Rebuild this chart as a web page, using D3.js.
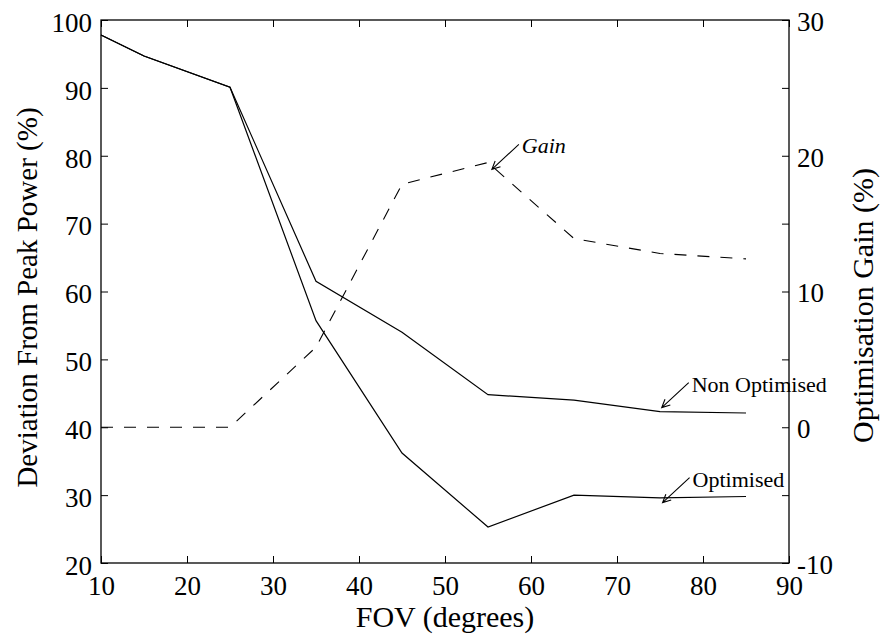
<!DOCTYPE html>
<html>
<head>
<meta charset="utf-8">
<script src="https://cdn.jsdelivr.net/npm/d3@7"></script>
<style>
body { margin: 0; background: #fff; }
</style>
</head>
<body>
<script>
// FOV sweep, deviation from peak power (left axis) and gain (right axis)
var fov = [10, 15, 25, 35, 45, 55, 65, 75, 85];
var nonOptimised = [97.8, 94.7, 90.1, 61.5, 54.0, 44.8, 44.0, 42.3, 42.1];
var optimised = [97.8, 94.7, 90.1, 55.7, 36.2, 25.3, 30.0, 29.6, 29.8];
var gain = [0, 0, 0, 5.9, 17.9, 19.5, 13.9, 12.8, 12.4];

var xTicks = [10, 20, 30, 40, 50, 60, 70, 80, 90];
var leftTicks = [20, 30, 40, 50, 60, 70, 80, 90, 100];
var rightTicks = [-10, -5, 0, 5, 10, 15, 20, 25, 30];
var rightLabels = [-10, 0, 10, 20, 30];

// text arrows: tip in data units of the named axis
var notes = [
	{text: "Gain", axis: "right", x: 55.45, y: 19.0, italic: true},
	{text: "Non Optimised", axis: "left", x: 75.2, y: 42.9, italic: false},
	{text: "Optimised", axis: "left", x: 75.3, y: 28.9, italic: false}
];

var width = 884, height = 642;
var margin = {top: 20, right: 95, bottom: 79, left: 101};
var x0 = margin.left, x1 = width - margin.right;
var y0 = margin.top, y1 = height - margin.bottom;

var serif = "Liberation Serif";

var xScale = d3.scaleLinear().domain([10, 90]).range([x0, x1]);
var yLeft = d3.scaleLinear().domain([20, 100]).range([y1, y0]);
var yRight = d3.scaleLinear().domain([-10, 30]).range([y1, y0]);

var svg = d3.select("body").append("svg")
	.attr("width", width)
	.attr("height", height)
	.attr("font-family", serif);

var tickLen = 7;
var tickSize = "27px";

function styleAxis(g, dy) {
	g.attr("font-family", serif);
	g.select(".domain").remove();
	g.selectAll("line").attr("stroke", "#000").attr("stroke-width", 1);
	g.selectAll("text").attr("font-size", tickSize).attr("font-family", serif).attr("dy", dy);
}

// bottom and top axes, ticks pointing in
svg.append("g")
	.attr("transform", "translate(0," + y1 + ")")
	.call(d3.axisBottom(xScale).tickValues(xTicks).tickSize(-tickLen).tickPadding(12))
	.call(styleAxis, "0.75em");

svg.append("g")
	.attr("transform", "translate(0," + y0 + ")")
	.call(d3.axisTop(xScale).tickValues(xTicks).tickSize(-tickLen).tickFormat(""))
	.call(styleAxis, "0");

// left axis
svg.append("g")
	.attr("transform", "translate(" + x0 + ",0)")
	.call(d3.axisLeft(yLeft).tickValues(leftTicks).tickSize(-tickLen).tickPadding(9))
	.call(styleAxis, "0.42em");

// right axis, ticks every 5, labels every 10
svg.append("g")
	.attr("transform", "translate(" + x1 + ",0)")
	.call(d3.axisRight(yRight).tickValues(rightTicks).tickSize(-tickLen).tickPadding(8)
		.tickFormat(function(d) { return rightLabels.indexOf(d) >= 0 ? d : ""; }))
	.call(styleAxis, "0.38em");

// frame
svg.append("rect")
	.attr("x", x0).attr("y", y0)
	.attr("width", x1 - x0).attr("height", y1 - y0)
	.attr("fill", "none")
	.attr("stroke", "#000")
	.attr("stroke-width", 1.3);

var lineLeft = d3.line()
	.x(function(d, i) { return xScale(fov[i]); })
	.y(function(d) { return yLeft(d); });
var lineRight = d3.line()
	.x(function(d, i) { return xScale(fov[i]); })
	.y(function(d) { return yRight(d); });

svg.append("path")
	.attr("d", lineLeft(nonOptimised))
	.attr("fill", "none").attr("stroke", "#000").attr("stroke-width", 1.2);
svg.append("path")
	.attr("d", lineLeft(optimised))
	.attr("fill", "none").attr("stroke", "#000").attr("stroke-width", 1.2);
svg.append("path")
	.attr("d", lineRight(gain))
	.attr("fill", "none").attr("stroke", "#000").attr("stroke-width", 1.1)
	.attr("stroke-dasharray", "12,11");

// annotations
var noteG = svg.append("g");
notes.forEach(function(n) {
	var tx = xScale(n.x);
	var ty = n.axis == "left" ? yLeft(n.y) : yRight(n.y);
	var sx = tx + 27, sy = ty - 25;
	var ang = Math.atan2(ty - sy, tx - sx);
	var head = 9, spread = 0.45;
	var p = d3.path();
	p.moveTo(sx, sy);
	p.lineTo(tx, ty);
	p.moveTo(tx - head * Math.cos(ang - spread), ty - head * Math.sin(ang - spread));
	p.lineTo(tx, ty);
	p.lineTo(tx - head * Math.cos(ang + spread), ty - head * Math.sin(ang + spread));
	noteG.append("path")
		.attr("d", p.toString())
		.attr("fill", "none").attr("stroke", "#000").attr("stroke-width", 1.1);
	noteG.append("text")
		.attr("x", sx + 3)
		.attr("y", sy + 9)
		.attr("font-family", serif)
		.attr("font-size", "22px")
		.attr("font-style", n.italic ? "italic" : "normal")
		.text(n.text);
});

// axis titles
svg.append("text")
	.attr("x", (x0 + x1) / 2)
	.attr("y", 627)
	.attr("text-anchor", "middle")
	.attr("font-family", serif)
	.attr("font-size", "30px")
	.text("FOV (degrees)");

svg.append("text")
	.attr("transform", "translate(37," + ((y0 + y1) / 2 + 6) + ") rotate(-90)")
	.attr("text-anchor", "middle")
	.attr("font-family", serif)
	.attr("font-size", "29px")
	.text("Deviation From Peak Power (%)");

svg.append("text")
	.attr("transform", "translate(873," + ((y0 + y1) / 2 + 14) + ") rotate(-90)")
	.attr("text-anchor", "middle")
	.attr("font-family", serif)
	.attr("font-size", "30px")
	.text("Optimisation Gain (%)");
</script>
</body>
</html>
